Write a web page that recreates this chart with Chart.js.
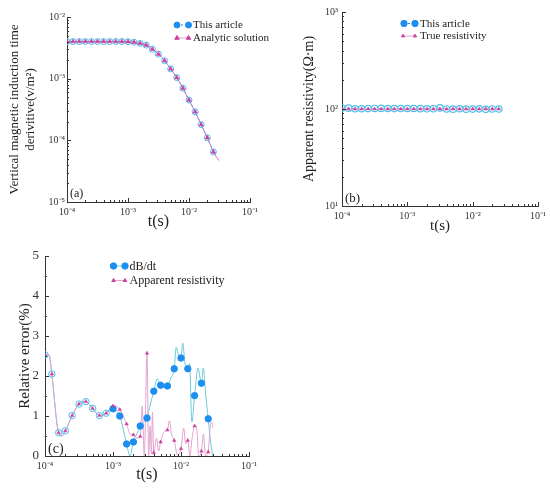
<!DOCTYPE html>
<html>
<head>
<meta charset="utf-8">
<title>TEM forward check</title>
<script src="https://cdn.jsdelivr.net/npm/chart.js@4.4.1/dist/chart.umd.min.js"></script>
<style>
  html, body { margin: 0; padding: 0; background: #fff; }
  #page { position: relative; width: 550px; height: 489px; overflow: hidden; }
  #page canvas { position: absolute; }
</style>
</head>
<body>
<div id="page">
  <canvas id="chartA" width="280" height="240" style="left:0;top:0"></canvas>
  <canvas id="chartB" width="270" height="240" style="left:280px;top:0"></canvas>
  <canvas id="chartC" width="280" height="249" style="left:0;top:240px"></canvas>
</div>
<script>
// sample times (s), 10 per decade
const timeGrid = [1.000e-4, 1.259e-4, 1.585e-4, 1.995e-4, 2.512e-4, 3.162e-4, 3.981e-4, 5.012e-4, 6.310e-4, 7.943e-4,
  1.000e-3, 1.259e-3, 1.585e-3, 1.995e-3, 2.512e-3, 3.162e-3, 3.981e-3, 5.012e-3, 6.310e-3, 7.943e-3,
  1.000e-2, 1.259e-2, 1.585e-2, 1.995e-2, 2.512e-2];

// (a) dB/dt (V/m^2)
const dbdtArticle = [4.0e-3, 4.0e-3, 4.0e-3, 4.0e-3, 4.0e-3, 4.0e-3, 4.0e-3, 4.0e-3, 4.0e-3, 4.0e-3,
  3.98e-3, 3.9e-3, 3.73e-3, 3.5e-3, 3.0e-3, 2.5e-3, 1.95e-3, 1.44e-3, 1.04e-3, 7.0e-4,
  4.5e-4, 2.9e-4, 1.8e-4, 1.1e-4, 6.5e-5];
const analyticT = [1.000e-4, 1.259e-4, 1.585e-4, 1.995e-4, 2.512e-4, 3.162e-4, 3.981e-4, 5.012e-4, 6.310e-4, 7.943e-4,
  1.000e-3, 1.259e-3, 1.585e-3, 1.995e-3, 2.512e-3, 3.162e-3, 3.981e-3, 5.012e-3, 6.310e-3, 7.943e-3,
  1.000e-2, 1.259e-2, 1.585e-2, 1.995e-2, 2.512e-2, 3.10e-2];
const analyticV = [4.0e-3, 4.0e-3, 4.0e-3, 4.0e-3, 4.0e-3, 4.0e-3, 4.0e-3, 4.0e-3, 4.0e-3, 4.0e-3,
  3.98e-3, 3.9e-3, 3.73e-3, 3.5e-3, 3.0e-3, 2.5e-3, 1.95e-3, 1.44e-3, 1.04e-3, 7.0e-4,
  4.5e-4, 2.9e-4, 1.8e-4, 1.1e-4, 6.5e-5, 4.7e-5];

// (b) apparent resistivity (ohm m)
const rhoArticle = [102.5, 102.0, 100.6, 100.6, 101.0, 101.3, 101.4, 101.2, 101.0, 101.1,
  101.2, 101.2, 100.8, 100.5, 100.5, 102.6, 100.1, 99.6, 100.6, 99.6,
  99.8, 100.4, 99.2, 100.1, 99.9];
const rhoTrue = [100, 100, 100, 100, 100, 100, 100, 100, 100, 100,
  100, 100, 100, 100, 100, 100, 100, 100, 100, 100,
  100, 100, 100, 100, 100];

// (c) relative error (%) at the markers
const errDbdt = [2.53, 2.05, 0.58, 0.63, 1.01, 1.30, 1.36, 1.19, 1.01, 1.07,
  1.18, 1.00, 0.30, 0.35, 0.75, 0.95, 1.62, 1.77, 1.75, 2.18,
  2.45, 2.18, 1.51, 1.82, 0.93];
const errRho = [2.53, 2.05, 0.58, 0.63, 1.01, 1.30, 1.36, 1.19, 1.01, 1.07,
  1.25, 1.16, 0.80, 0.53, 0.49, 2.57, 0.08, 0.35, 0.65, 0.39,
  0.18, 0.39, 0.75, 0.12, 0.10];

// (c) the drawn curves, which wiggle between the markers
const errDbdtLineT = [1.00e-4, 1.15e-4, 1.259e-4, 1.585e-4, 1.778e-4, 1.995e-4, 2.512e-4, 3.162e-4, 3.981e-4, 5.012e-4,
  6.310e-4, 7.943e-4, 1.0e-3, 1.259e-3, 1.585e-3, 1.778e-3, 1.995e-3, 2.239e-3, 2.512e-3, 2.818e-3,
  3.162e-3, 3.548e-3, 3.981e-3, 4.467e-3, 5.012e-3, 5.623e-3, 6.310e-3, 7.079e-3, 7.943e-3, 8.511e-3,
  9.120e-3, 1.0e-2, 1.059e-2, 1.148e-2, 1.259e-2, 1.334e-2, 1.445e-2, 1.585e-2, 1.778e-2, 1.995e-2,
  2.138e-2, 2.291e-2, 2.512e-2, 2.754e-2, 2.951e-2];
const errDbdtLineV = [2.53, 2.52, 2.05, 0.58, 0.50, 0.63, 1.01, 1.30, 1.36, 1.19,
  1.01, 1.07, 1.18, 1.00, 0.30, 0.0, 0.35, 0.55, 0.75, 0.85,
  0.95, 1.30, 1.62, 1.93, 1.77, 1.72, 1.75, 1.95, 2.18, 2.72,
  2.55, 2.45, 2.82, 2.30, 2.18, 2.31, 0.85, 1.51, 2.20, 1.82,
  2.20, 1.60, 0.93, 0.30, 0.0];
const errRhoLineT = [1.00e-4, 1.15e-4, 1.259e-4, 1.585e-4, 1.778e-4, 1.995e-4, 2.512e-4, 3.162e-4, 3.981e-4, 5.012e-4,
  6.310e-4, 7.943e-4, 1.0e-3, 1.259e-3, 1.585e-3, 1.778e-3, 1.995e-3, 2.239e-3, 2.512e-3, 2.692e-3,
  2.884e-3, 3.162e-3, 3.350e-3, 3.508e-3, 3.673e-3, 3.802e-3, 3.981e-3, 4.365e-3, 4.677e-3, 5.012e-3,
  5.623e-3, 6.310e-3, 6.761e-3, 7.244e-3, 7.943e-3, 8.913e-3, 1.0e-2, 1.096e-2, 1.175e-2, 1.259e-2,
  1.349e-2, 1.445e-2, 1.585e-2, 1.698e-2, 1.820e-2, 1.995e-2, 2.138e-2, 2.291e-2, 2.512e-2, 2.692e-2,
  2.818e-2, 2.951e-2];
const errRhoLineV = [2.53, 2.52, 2.05, 0.58, 0.50, 0.63, 1.01, 1.30, 1.36, 1.19,
  1.01, 1.07, 1.25, 1.16, 0.80, 0.55, 0.53, 0.45, 0.49, 1.25,
  0.0, 2.57, 0.0, 0.75, 0.05, 1.10, 0.08, 0.45, 0.12, 0.35,
  0.60, 0.65, 0.88, 0.55, 0.39, 0.02, 0.18, 0.70, 0.30, 0.39,
  0.0, 0.40, 0.75, 0.70, 0.0, 0.12, 0.55, 0.0, 0.10, 0.75,
  0.85, 0.70];

// axis decades and their labels
const timeDecades = [1e-4, 1e-3, 1e-2, 1e-1];
const timeLabels = ['10⁻⁴', '10⁻³', '10⁻²', '10⁻¹'];
const dbdtDecades = [1e-5, 1e-4, 1e-3, 1e-2];
const dbdtLabels = ['10⁻⁵', '10⁻⁴', '10⁻³', '10⁻²'];
const rhoDecades = [10, 100, 1000];
const rhoLabels = ['10¹', '10²', '10³'];
const errTicks = [0, 0.5, 1, 1.5, 2, 2.5, 3, 3.5, 4, 4.5, 5];
const errLabels = ['0', '', '1', '', '2', '', '3', '', '4', '', '5'];

const SERIF = "'Liberation Serif', 'Times New Roman', serif";
const BLUE = '#1b8ef0';
const CYAN = '#4cbfe8';
const MAGENTA = '#cc3f9f';
const PINK = '#e3a2cf';

Chart.defaults.font.family = SERIF;
Chart.defaults.color = '#222';

const pts = (xs, ys) => xs.map((x, i) => ({x, y: ys[i]}));

function isMajorTick(scale, v) {
  if (scale.type === 'logarithmic') {
    const e = Math.log10(v);
    return Math.abs(e - Math.round(e)) < 1e-6;
  }
  return Math.abs(v - Math.round(v)) < 1e-6;
}

function logTicks(decades) {
  const out = [];
  decades.forEach((d, i) => {
    out.push({value: d});
    if (i < decades.length - 1) {
      for (let m = 2; m <= 9; m++) out.push({value: d * m});
    }
  });
  return out;
}

function logAxis(decades, labels, o) {
  return {
    type: 'logarithmic',
    min: decades[0],
    max: decades[decades.length - 1],
    grid: {display: false, drawTicks: false},
    border: {color: '#333', width: 1},
    afterBuildTicks: (s) => { s.ticks = logTicks(decades); },
    afterFit: o.fit,
    ticks: {
      autoSkip: false,
      maxRotation: 0,
      padding: o.tickPad,
      font: {size: 10},
      color: '#333',
      callback: (v) => {
        const i = decades.findIndex(d => Math.abs(d - v) / d < 1e-6);
        return i < 0 ? '' : labels[i];
      }
    },
    title: o.title
  };
}

// inward ticks, legend and panel tag
const panelDecor = {
  id: 'panelDecor',
  afterDraw(chart, args, opts) {
    const {ctx, chartArea: area} = chart;
    ctx.save();
    ctx.strokeStyle = '#333';
    ctx.lineWidth = 1;
    ['x', 'y'].forEach(id => {
      const scale = chart.scales[id];
      scale.ticks.forEach(tick => {
        const len = isMajorTick(scale, tick.value) ? 4 : 2;
        const p = Math.round(scale.getPixelForValue(tick.value)) + 0.5;
        ctx.beginPath();
        if (id === 'x') {
          ctx.moveTo(p, area.bottom);
          ctx.lineTo(p, area.bottom - len);
        } else {
          ctx.moveTo(area.left, p);
          ctx.lineTo(area.left + len, p);
        }
        ctx.stroke();
      });
    });

    opts.legend.forEach(item => {
      ctx.save();
      ctx.strokeStyle = item.lineColor;
      ctx.lineWidth = 1;
      ctx.setLineDash(item.dash || []);
      ctx.beginPath();
      ctx.moveTo(item.x1, item.y);
      ctx.lineTo(item.x2, item.y);
      ctx.stroke();
      ctx.setLineDash([]);
      ctx.fillStyle = item.color;
      ctx.strokeStyle = item.color;
      [item.x1, item.x2].forEach(x => {
        Chart.helpers.drawPoint(ctx, {pointStyle: item.marker, radius: item.radius, rotation: 0, borderWidth: 0.5}, x, item.y);
      });
      ctx.restore();
      ctx.fillStyle = '#222';
      ctx.font = `${opts.legendSize}px ${SERIF}`;
      ctx.textBaseline = 'middle';
      ctx.textAlign = 'left';
      ctx.fillText(item.label, item.textX, item.y + 0.5);
    });

    ctx.fillStyle = '#222';
    ctx.font = `${opts.tagSize}px ${SERIF}`;
    ctx.textBaseline = 'alphabetic';
    ctx.fillText(opts.tag, area.left + opts.tagDx, area.bottom - opts.tagDy);
    ctx.restore();
  }
};

const base = {
  responsive: false,
  animation: false,
  events: []
};

// (a)
new Chart(document.getElementById('chartA'), {
  type: 'scatter',
  plugins: [panelDecor],
  data: {
    datasets: [{
      label: 'Analytic solution',
      data: pts(analyticT, analyticV),
      showLine: true,
      order: 0,
      borderColor: '#b77ac8',
      borderWidth: 1,
      cubicInterpolationMode: 'monotone',
      pointStyle: 'triangle',
      pointRadius: (c) => c.dataIndex < timeGrid.length ? 2.6 : 0,
      pointBackgroundColor: MAGENTA,
      pointBorderColor: MAGENTA,
      pointBorderWidth: 0.5
    }, {
      label: 'This article',
      data: pts(timeGrid, dbdtArticle),
      showLine: true,
      order: 1,
      borderColor: CYAN,
      borderDash: [3, 2],
      borderWidth: 1,
      cubicInterpolationMode: 'monotone',
      pointStyle: 'circle',
      pointRadius: 3,
      pointBackgroundColor: 'rgba(255,255,255,0)',
      pointBorderColor: CYAN,
      pointBorderWidth: 1
    }]
  },
  options: {
    ...base,
    layout: {padding: {top: 17, right: 30, left: 0, bottom: 0}},
    plugins: {
      legend: {display: false},
      tooltip: {enabled: false},
      panelDecor: {
        tag: '(a)', tagSize: 12, tagDx: 3, tagDy: 5,
        legendSize: 11,
        legend: [
          {label: 'This article', marker: 'circle', radius: 3, color: BLUE, lineColor: BLUE, dash: [2, 2], x1: 177, x2: 188.5, y: 25, textX: 193},
          {label: 'Analytic solution', marker: 'triangle', radius: 2.6, color: MAGENTA, lineColor: PINK, x1: 177, x2: 188.5, y: 38, textX: 193}
        ]
      }
    },
    scales: {
      x: logAxis(timeDecades, timeLabels, {
        fit: (s) => { s.height = 38; },
        tickPad: 4,
        title: {display: true, text: 't(s)', font: {size: 16, lineHeight: '18px'}, padding: {top: 0, bottom: 9}}
      }),
      y: logAxis(dbdtDecades, dbdtLabels, {
        fit: (s) => { s.width = 67; },
        tickPad: 2,
        title: {display: true, text: ['Vertical magnetic induction time', 'derivitive(v/m²)'], font: {size: 13, lineHeight: '16px'}, padding: {top: 7, bottom: 0}}
      })
    }
  }
});

// (b)
new Chart(document.getElementById('chartB'), {
  type: 'scatter',
  plugins: [panelDecor],
  data: {
    datasets: [{
      label: 'True resistivity',
      data: pts(timeGrid, rhoTrue),
      showLine: true,
      order: 0,
      borderColor: PINK,
      borderWidth: 1,
      pointStyle: 'triangle',
      pointRadius: 2,
      pointBackgroundColor: MAGENTA,
      pointBorderColor: MAGENTA,
      pointBorderWidth: 0.5
    }, {
      label: 'This article',
      data: pts(timeGrid, rhoArticle),
      showLine: true,
      order: 1,
      borderColor: CYAN,
      borderDash: [3, 2],
      borderWidth: 1,
      pointStyle: 'circle',
      pointRadius: 3.2,
      pointBackgroundColor: 'rgba(255,255,255,0)',
      pointBorderColor: CYAN,
      pointBorderWidth: 1.2
    }]
  },
  options: {
    ...base,
    layout: {padding: {top: 12, right: 12, left: 0, bottom: 0}},
    plugins: {
      legend: {display: false},
      tooltip: {enabled: false},
      panelDecor: {
        tag: '(b)', tagSize: 13, tagDx: 3, tagDy: 4,
        legendSize: 11,
        legend: [
          {label: 'This article', marker: 'circle', radius: 3.2, color: BLUE, lineColor: BLUE, dash: [2, 2], x1: 124, x2: 135, y: 23.5, textX: 140},
          {label: 'True resistivity', marker: 'triangle', radius: 1.8, color: MAGENTA, lineColor: PINK, x1: 123, x2: 135, y: 36, textX: 140}
        ]
      }
    },
    scales: {
      x: logAxis(timeDecades, timeLabels, {
        fit: (s) => { s.height = 34; },
        tickPad: 4,
        title: {display: true, text: 't(s)', font: {size: 15, lineHeight: '18px'}, padding: {top: 0, bottom: 5}}
      }),
      y: logAxis(rhoDecades, rhoLabels, {
        fit: (s) => { s.width = 62; },
        tickPad: 4,
        title: {display: true, text: 'Apparent resistivity(Ω·m)', font: {size: 14, lineHeight: '17px'}, padding: {top: 21, bottom: 0}}
      })
    }
  }
});

// (c)
new Chart(document.getElementById('chartC'), {
  type: 'scatter',
  plugins: [panelDecor],
  data: {
    datasets: [{
      label: 'Apparent resistivity',
      data: pts(timeGrid, errRho),
      order: 0,
      showLine: false,
      pointStyle: 'triangle',
      pointRadius: 2,
      pointBackgroundColor: MAGENTA,
      pointBorderColor: MAGENTA,
      pointBorderWidth: 0.5
    }, {
      label: 'dB/dt',
      data: pts(timeGrid, errDbdt),
      order: 1,
      showLine: false,
      pointStyle: 'circle',
      pointRadius: 3.2,
      pointBackgroundColor: (c) => c.dataIndex < 10 ? 'rgba(255,255,255,0)' : BLUE,
      pointBorderColor: (c) => c.dataIndex < 10 ? CYAN : BLUE,
      pointBorderWidth: 1
    }, {
      label: 'Apparent resistivity curve',
      data: pts(errRhoLineT, errRhoLineV),
      order: 2,
      showLine: true,
      borderColor: PINK,
      borderWidth: 1,
      cubicInterpolationMode: 'monotone',
      pointRadius: 0
    }, {
      label: 'dB/dt curve',
      data: pts(errDbdtLineT, errDbdtLineV),
      order: 3,
      showLine: true,
      borderColor: '#6ccadc',
      borderWidth: 1,
      cubicInterpolationMode: 'monotone',
      pointRadius: 0
    }]
  },
  options: {
    ...base,
    layout: {padding: {top: 16, right: 31, left: 0, bottom: 0}},
    plugins: {
      legend: {display: false},
      tooltip: {enabled: false},
      panelDecor: {
        tag: '(c)', tagSize: 14, tagDx: 3, tagDy: 3,
        legendSize: 12,
        legend: [
          {label: 'dB/dt', marker: 'circle', radius: 3.2, color: BLUE, lineColor: '#6ccadc', x1: 113.5, x2: 125, y: 26, textX: 129.5},
          {label: 'Apparent resistivity', marker: 'triangle', radius: 2, color: MAGENTA, lineColor: PINK, x1: 113.5, x2: 125, y: 40.5, textX: 129.5}
        ]
      }
    },
    scales: {
      x: logAxis(timeDecades, timeLabels, {
        fit: (s) => { s.height = 33; },
        tickPad: 4,
        title: {display: true, text: 't(s)', font: {size: 16, lineHeight: '18px'}, padding: {top: 0, bottom: 5}}
      }),
      y: {
        type: 'linear',
        min: 0,
        max: 5,
        grid: {display: false, drawTicks: false},
        border: {color: '#333', width: 1},
        afterBuildTicks: (s) => { s.ticks = errTicks.map(v => ({value: v})); },
        afterFit: (s) => { s.width = 45; },
        ticks: {
          autoSkip: false,
          padding: 6,
          font: {size: 13},
          color: '#333',
          callback: (v) => errLabels[errTicks.indexOf(v)] ?? ''
        },
        title: {display: true, text: 'Relative error(%)', font: {size: 15, lineHeight: '18px'}, padding: {top: 16, bottom: 0}}
      }
    }
  }
});
</script>
</body>
</html>
